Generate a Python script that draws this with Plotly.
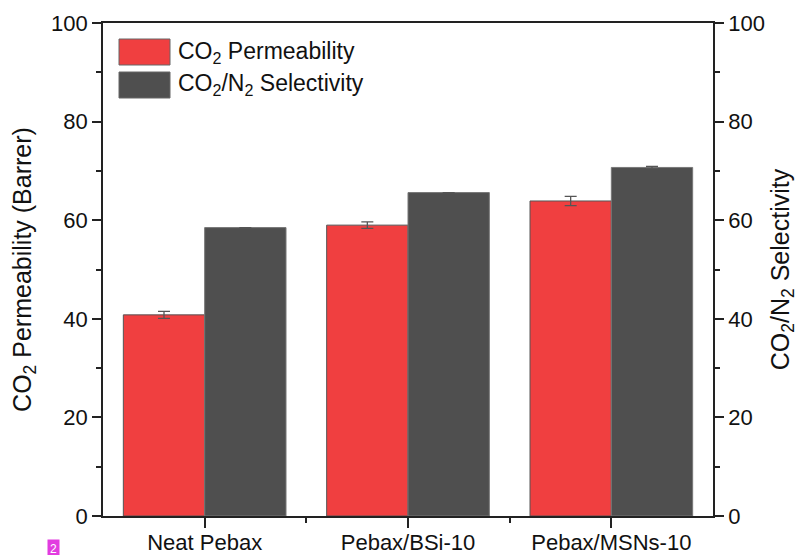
import plotly.graph_objects as go

categories = ["Neat Pebax", "Pebax/BSi-10", "Pebax/MSNs-10"]
permeability = [40.8, 59.0, 63.9]
permeability_err = [0.7, 0.65, 0.95]
selectivity = [58.5, 65.6, 70.7]
selectivity_err = [0.0, 0.0, 0.2]
y_ticks = [0, 20, 40, 60, 80, 100]

xpos = list(range(len(categories)))
FONT = "Liberation Sans, Arial, sans-serif"
FS = 22
TFS = 25
RED = "#F03F40"
GRAY = "#4F4F4F"
AX = "#222222"

fig = go.Figure()
fig.add_trace(go.Bar(
    x=xpos, y=permeability, width=0.4, offset=-0.4,
    marker=dict(color=RED, line=dict(color="#555555", width=1)),
    error_y=dict(type="data", array=permeability_err, color="#555555", thickness=1.3, width=6),
    name="CO<sub>2</sub> Permeability", yaxis="y", showlegend=False))
fig.add_trace(go.Bar(
    x=xpos, y=selectivity, width=0.4, offset=0.0,
    marker=dict(color=GRAY, line=dict(color="#777777", width=1)),
    error_y=dict(type="data", array=selectivity_err, color="#555555", thickness=1.3, width=6),
    name="CO<sub>2</sub>/N<sub>2</sub> Selectivity", yaxis="y2", showlegend=False))

axis_common = dict(
    range=[0, 100], tickvals=y_ticks, ticks="outside", ticklen=9, tickwidth=1.5,
    tickcolor=AX, showline=True, linecolor=AX, linewidth=1.8, showgrid=False,
    zeroline=False, automargin=False, tickfont=dict(size=FS, color="#111", family=FONT),
    minor=dict(dtick=10, ticks="outside", ticklen=5, tickwidth=1.5, tickcolor=AX),
)

fig.update_layout(
    width=798, height=555,
    margin=dict(l=103, r=85, t=23, b=39),
    paper_bgcolor="white", plot_bgcolor="white",
    font=dict(family=FONT, size=FS, color="#111"),
    barmode="overlay",
    xaxis=dict(
        range=[-0.5, 2.5], tickvals=xpos, ticktext=categories,
        ticks="outside", ticklen=10, tickwidth=1.5, tickcolor=AX,
        showline=True, linecolor=AX, linewidth=1.8, mirror=True,
        showgrid=False, zeroline=False, automargin=False,
        ticklabelstandoff=-4,
        tickfont=dict(size=FS, color="#111", family=FONT),
        minor=dict(tickvals=[0.5, 1.5], ticks="outside", ticklen=5, tickwidth=1.5, tickcolor=AX),
    ),
    yaxis=dict(
        title=dict(text="CO<sub>2</sub> Permeability (Barrer)", font=dict(size=TFS, family=FONT, color="#111"), standoff=12),
        **axis_common),
    yaxis2=dict(
        title=dict(text="CO<sub>2</sub>/N<sub>2</sub> Selectivity", font=dict(size=TFS, family=FONT, color="#111"), standoff=12),
        overlaying="y", side="right", anchor="x",
        **axis_common),
)

# legend drawn as boxes + text (large swatches like reference)
legend_items = [("CO<sub>2</sub> Permeability", RED, 0), ("CO<sub>2</sub>/N<sub>2</sub> Selectivity", GRAY, 1)]
for text, color, i in legend_items:
    y0 = 39 + i * 33
    fig.add_shape(type="rect", xref="paper", yref="paper",
                  x0=(119 - 103) / 610, x1=(170 - 103) / 610,
                  y0=1 - (y0 + 26 - 23) / 493, y1=1 - (y0 - 23) / 493,
                  fillcolor=color, line=dict(color="#666666", width=1))
    fig.add_annotation(xref="paper", yref="paper",
                       x=(176 - 103) / 610, y=1 - (y0 + 13 - 23) / 493,
                       text=text, showarrow=False, xanchor="left", yanchor="middle",
                       font=dict(size=23, family=FONT, color="#111"))

# small magenta badge seen at the bottom-left of the reference image
fig.add_annotation(xref="paper", yref="paper", x=(53 - 103) / 610, y=-(549 - 516) / 493,
                   text="2", showarrow=False, xanchor="center", yanchor="middle",
                   bgcolor="#E23CE0", font=dict(size=12, color="white", family=FONT),
                   borderpad=2)

fig.write_html("out.html")
